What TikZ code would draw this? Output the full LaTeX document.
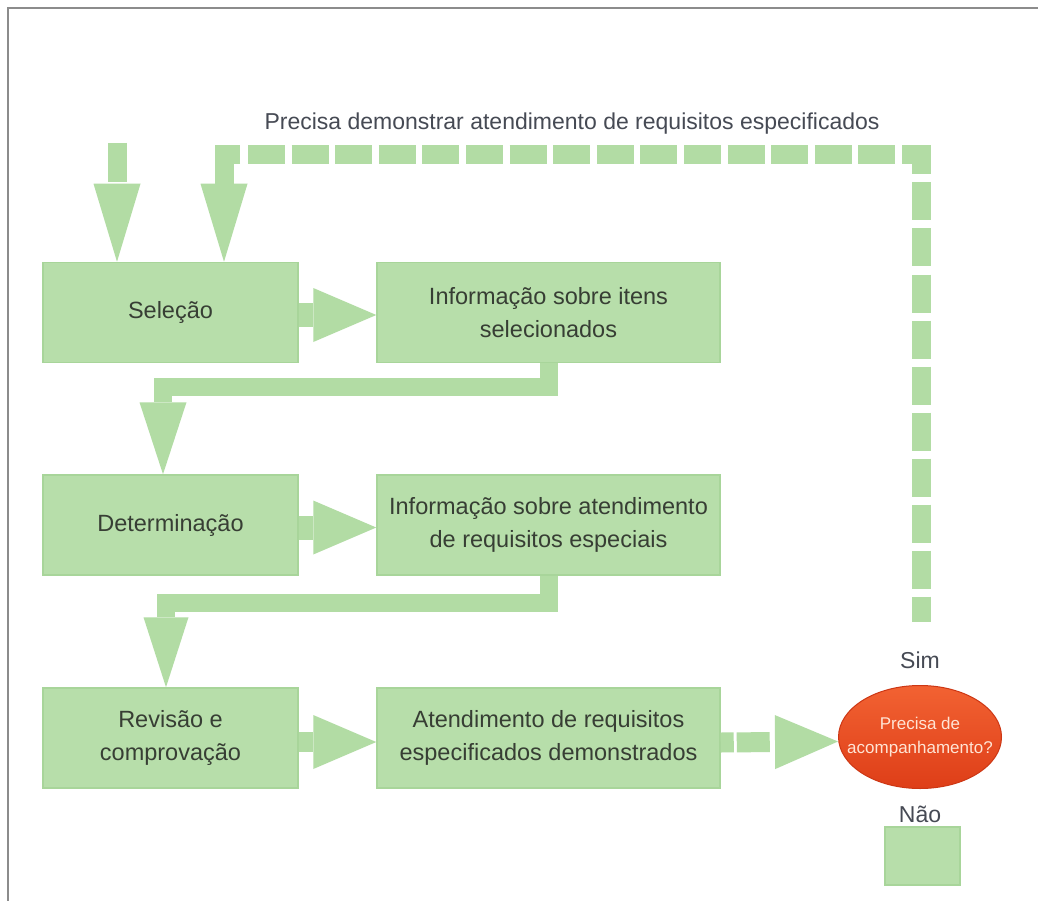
\documentclass[tikz,border=0pt]{standalone}
\usepackage{fontspec}
\setmainfont{Liberation Sans}
\usetikzlibrary{arrows.meta,shapes.geometric,calc}
\definecolor{boxgreen}{RGB}{183,222,170}
\definecolor{boxedge}{RGB}{168,213,154}
\definecolor{arrowgreen}{RGB}{178,220,164}
\definecolor{txt}{RGB}{55,62,52}
\definecolor{labeltxt}{RGB}{70,74,84}
\definecolor{ellred}{RGB}{222,62,24}
\definecolor{ellredtop}{RGB}{242,98,50}
\definecolor{elledge}{RGB}{205,55,20}
\definecolor{elltxt}{RGB}{255,228,212}
\definecolor{framegray}{RGB}{140,140,140}
\begin{document}
\begin{tikzpicture}[x=1pt,y=-1pt,
  box/.style={rectangle, fill=boxgreen, draw=boxedge, line width=1.5pt, inner sep=0pt,
    text=txt, align=center, font=\fontsize{23.5}{33}\selectfont},
  leftbox/.style={box, minimum width=255pt, minimum height=100pt},
  rightbox/.style={box, minimum width=343pt, minimum height=100pt},
  harrow/.style={draw=arrowgreen, line width=22pt,
    -{Triangle[length=63pt,width=54pt,line width=0pt]}},
  varrow/.style={draw=arrowgreen, line width=18pt, line join=miter,
    -{Triangle[length=72pt,width=47pt,line width=0pt]}},
  fbline/.style={draw=arrowgreen, line width=19pt},
  lbl/.style={text=labeltxt, font=\fontsize{23}{27}\selectfont, inner sep=0pt}
]
\useasboundingbox (0,0) rectangle (1038,901);
\fill[white] (0,0) rectangle (1038,901);
\draw[framegray, line width=2pt] (8,901) -- (8,8) -- (1038,8);

% title
\node[lbl] (title) at (572,124) {Precisa demonstrar atendimento de requisitos especificados};

% boxes
\node[leftbox] (sel) at (170.5,312.5) {Seleção};
\node[rightbox] (inf1) at (548.5,312.5) {Informação sobre itens\\selecionados};
\node[leftbox] (det) at (170.5,525) {Determinação};
\node[rightbox] (inf2) at (548.5,525) {Informação sobre atendimento\\de requisitos especiais};
\node[leftbox] (rev) at (170.5,738) {Revisão e\\comprovação};
\node[rightbox] (ate) at (548.5,738) {Atendimento de requisitos\\especificados demonstrados};

% decision
\node[ellipse, top color=ellredtop, bottom color=ellred, draw=elledge, line width=1pt,
  minimum width=163pt, minimum height=103pt, inner sep=0pt] (q) at (920,737) {};
\node[align=center, text=elltxt, inner sep=0pt, font=\fontsize{17}{24}\selectfont]
  (qtext) at (q.center) {Precisa de\\acompanhamento?};
\node[lbl] (sim) at (920,660) {Sim};
\node[lbl] (nao) at (920,814) {Não};
\node[box, minimum width=75pt, minimum height=58pt] (fim) at (922.5,856) {};

% incoming arrow (top left)
\coordinate (inA) at (117,143);
\draw[varrow, line width=19pt, dash pattern=on 39pt off 6pt,
  -{Triangle[length=78pt,width=47pt,line width=0pt]}]
  (inA) -- ($(sel.north)+(-53.5,0)$);

% feedback dashed arrow (from "Sim" back to Seleção)
\coordinate (fb) at (921,622);
\coordinate (fbc) at (921,155);
\coordinate (fbh) at (248,155);
\coordinate (fbl) at (224,155);
\draw[fbline, dash pattern=on 38pt off 8pt, dash phase=9pt]
  ($(fbc)+(0,-9.5)$) -- (fb);
\draw[fbline, dash pattern=on 37pt off 6.6pt] (fbh) -- ($(fbc)+(-0.5,0)$);
\draw[varrow, line width=19pt, -{Triangle[length=78pt,width=47pt,line width=0pt]}]
  ($(fbl)+(16,0)$) -- (fbl) -- ($(sel.north)+(53.5,0)$);

% horizontal arrows
\draw[harrow, line width=24pt] ($(sel.east)+(0,2.5)$) -- ($(inf1.west)+(0,2.5)$);
\draw[harrow, line width=24pt] ($(det.east)+(0,2.5)$) -- ($(inf2.west)+(0,2.5)$);
\draw[harrow, line width=20pt] ($(rev.east)+(0,4)$) -- ($(ate.west)+(0,4)$);
\draw[harrow, line width=20pt, dash pattern=on 13pt off 3pt on 33pt off 10pt]
  ($(ate.east)+(0,4.5)$) -- ($(q.west)+(0,4.5)$);

% elbow connectors
\draw[varrow] (inf1.south) -- ++(0,24) -| ($(det.north)+(-7.5,0)$);
\draw[varrow, -{Triangle[length=70pt,width=45pt,line width=0pt]}]
  (inf2.south) -- ++(0,27) -| ($(rev.north)+(-4.5,0)$);
\end{tikzpicture}
\end{document}
